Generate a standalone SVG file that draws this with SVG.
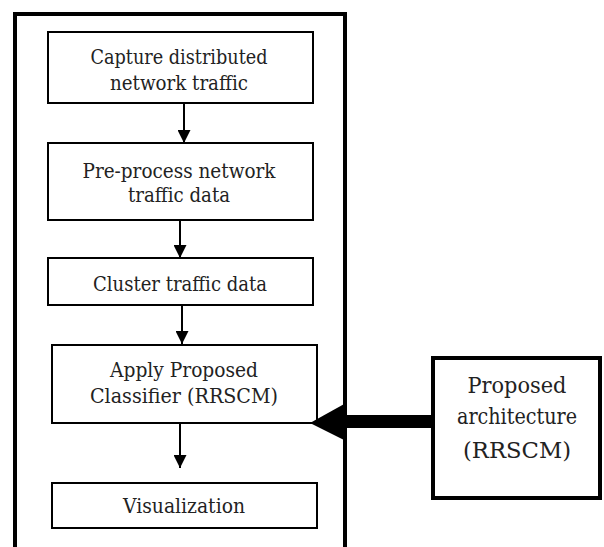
<svg xmlns="http://www.w3.org/2000/svg" width="604" height="547" viewBox="0 0 604 547">
<style>
.box{fill:#fff;stroke:#000;stroke-width:2}
text{font-family:'DejaVu Serif',serif;fill:#222;text-anchor:middle}
.t{font-size:20px}
.t2{font-size:22px}
.ln{stroke:#000;stroke-width:2;fill:none}
</style>
<defs>
<marker id="ah" markerWidth="15" markerHeight="13" refX="15" refY="7.5" orient="auto" markerUnits="userSpaceOnUse" viewBox="0 0 15 15">
<path d="M0,0 L15,7.5 L0,15 Z" fill="#000"/>
</marker>
</defs>
<rect width="604" height="547" fill="#fff"/>
<g id="container">
<path d="M15,547 L15,14 L345,14 L345,547" fill="none" stroke="#000" stroke-width="4"/>
</g>
<g id="n1">
<rect class="box" x="48" y="32" width="265" height="71"/>
<text class="t" x="179" y="64" textLength="177" lengthAdjust="spacingAndGlyphs">Capture distributed</text>
<text class="t" x="179" y="90" textLength="138" lengthAdjust="spacingAndGlyphs">network traffic</text>
</g>
<g id="n2">
<rect class="box" x="48" y="143" width="265" height="77"/>
<text class="t" x="179" y="178" textLength="193" lengthAdjust="spacingAndGlyphs">Pre-process network</text>
<text class="t" x="179" y="202" textLength="102" lengthAdjust="spacingAndGlyphs">traffic data</text>
</g>
<g id="n3">
<rect class="box" x="48" y="258" width="265" height="47"/>
<text class="t" x="180" y="291" textLength="174" lengthAdjust="spacingAndGlyphs">Cluster traffic data</text>
</g>
<g id="n4">
<rect class="box" x="52" y="345" width="265" height="78"/>
<text class="t" x="184" y="377" textLength="148" lengthAdjust="spacingAndGlyphs">Apply Proposed</text>
<text class="t" x="184" y="403" textLength="188" lengthAdjust="spacingAndGlyphs">Classifier (RRSCM)</text>
</g>
<g id="n5">
<rect class="box" x="52" y="483" width="265" height="45"/>
<text class="t" x="184" y="513" textLength="122" lengthAdjust="spacingAndGlyphs">Visualization</text>
</g>
<g id="n6">
<rect x="433" y="358" width="167" height="140" fill="#fff" stroke="#000" stroke-width="4"/>
<text class="t2" x="517" y="393" textLength="99" lengthAdjust="spacingAndGlyphs">Proposed</text>
<text class="t2" x="517" y="424" textLength="120" lengthAdjust="spacingAndGlyphs">architecture</text>
<text class="t2" x="517" y="458" textLength="108" lengthAdjust="spacingAndGlyphs">(RRSCM)</text>
</g>
<g id="connectors">
<line class="ln" x1="184" y1="103" x2="184" y2="143" marker-end="url(#ah)"/>
<line class="ln" x1="180" y1="220" x2="180" y2="258" marker-end="url(#ah)"/>
<line class="ln" x1="182" y1="305" x2="182" y2="344" marker-end="url(#ah)"/>
<line class="ln" x1="180" y1="424" x2="180" y2="468" marker-end="url(#ah)"/>
<rect x="340" y="415" width="93" height="13" fill="#000"/>
<polygon points="310,423 346,403 346,441" fill="#000"/>
</g>
</svg>
